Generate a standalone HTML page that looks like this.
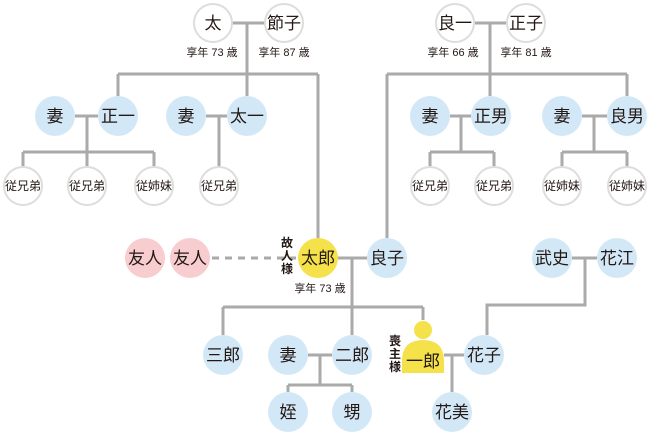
<!DOCTYPE html>
<html><head><meta charset="utf-8"><style>
html,body{margin:0;padding:0;background:#fff;}
svg{display:block;font-family:"Liberation Sans","Noto Sans CJK JP",sans-serif;}
</style></head><body>
<svg width="650" height="432" viewBox="0 0 650 432" xmlns="http://www.w3.org/2000/svg">
<g stroke="#aaa" stroke-width="3" fill="none">
<!-- left top family -->
<path d="M231 23H266M247 23V74M118 74H318M118 74V96M247 74V96M318 74V238"/>
<path d="M75 116H98M87 116V152M23 152H154M23 152V166M87 152V166M154 152V166"/>
<path d="M206 116H227M219 116V166"/>
<!-- right top family -->
<path d="M475 23H506M490 23V74M387 74H627M387 74V238M490 74V96M627 74V96"/>
<path d="M450 116H471M461 116V152M430 152H494M430 152V166M494 152V166"/>
<path d="M582 116H607M594 116V152M562 152H627M562 152V166M627 152V166"/>
<!-- center -->
<path d="M338 258H367M352 258V307M223 307H423M223 307V335M352 307V335M423 307V320"/>
<path d="M308 355H332M320 355V385M288 385H352M288 385V392M352 385V392"/>
<path d="M444 355H464M452 355V392"/>
<path d="M487 335V305H585V258M572 258H597"/>
</g>
<path d="M212 258H296" stroke="#aaa" stroke-width="3" stroke-dasharray="7,6"/>
<g stroke="#ddd" stroke-width="2" fill="#fff">
<circle cx="213" cy="23" r="19"/><circle cx="284" cy="23" r="19"/>
<circle cx="455" cy="23" r="19"/><circle cx="526" cy="23" r="19"/>
<circle cx="23" cy="186" r="19"/><circle cx="87" cy="186" r="19"/><circle cx="154" cy="186" r="19"/><circle cx="219" cy="186" r="19"/>
<circle cx="430" cy="186" r="19"/><circle cx="494" cy="186" r="19"/><circle cx="562" cy="186" r="19"/><circle cx="627" cy="186" r="19"/>
</g>
<g fill="#d3e8f7">
<circle cx="55" cy="116" r="20"/><circle cx="118" cy="116" r="20"/><circle cx="186" cy="116" r="20"/><circle cx="247" cy="116" r="20"/>
<circle cx="430" cy="116" r="20"/><circle cx="491" cy="116" r="20"/><circle cx="562" cy="116" r="20"/><circle cx="627" cy="116" r="20"/>
<circle cx="387" cy="258" r="20"/><circle cx="552" cy="258" r="20"/><circle cx="617" cy="258" r="20"/>
<circle cx="223" cy="355" r="20"/><circle cx="288" cy="355" r="20"/><circle cx="352" cy="355" r="20"/><circle cx="484" cy="355" r="20"/>
<circle cx="288" cy="412" r="20"/><circle cx="352" cy="412" r="20"/><circle cx="452" cy="412" r="20"/>
</g>
<g fill="#f7cdd0"><circle cx="145" cy="258" r="20"/><circle cx="190" cy="258" r="20"/></g>
<g fill="#f5e14a">
<circle cx="318" cy="258" r="20"/>
<circle cx="423" cy="330" r="9"/>
<path d="M402 373V361Q402 340 423 340Q444 340 444 361V373Z"/>
</g>
<g fill="#231815" font-size="17" text-anchor="middle">
<text x="213" y="29">太</text><text x="284" y="29">節子</text>
<text x="455" y="29">良一</text><text x="526" y="29">正子</text>
<text x="55" y="122">妻</text><text x="118" y="122">正一</text><text x="186" y="122">妻</text><text x="247" y="122">太一</text>
<text x="430" y="122">妻</text><text x="491" y="122">正男</text><text x="562" y="122">妻</text><text x="627" y="122">良男</text>
<text x="145" y="264">友人</text><text x="190" y="264">友人</text><text x="318" y="264">太郎</text><text x="387" y="264">良子</text>
<text x="552" y="264">武史</text><text x="617" y="264">花江</text>
<text x="223" y="361">三郎</text><text x="288" y="361">妻</text><text x="352" y="361">二郎</text><text x="423" y="367">一郎</text><text x="484" y="361">花子</text>
<text x="288" y="418">姪</text><text x="352" y="418">甥</text><text x="452" y="418">花美</text>
</g>
<g fill="#231815" font-size="12" text-anchor="middle">
<text x="23" y="190">従兄弟</text><text x="87" y="190">従兄弟</text><text x="154" y="190">従姉妹</text><text x="219" y="190">従兄弟</text>
<text x="430" y="190">従兄弟</text><text x="494" y="190">従兄弟</text><text x="562" y="190">従姉妹</text><text x="627" y="190">従姉妹</text>
</g>
<g fill="#231815" font-size="11" text-anchor="middle">
<text x="212" y="56">享年 73 歳</text><text x="284" y="56">享年 87 歳</text>
<text x="453" y="56">享年 66 歳</text><text x="526" y="56">享年 81 歳</text>
<text x="320" y="292">享年 73 歳</text>
</g>
<g fill="#231815" font-size="12" text-anchor="middle" font-weight="bold">
<text x="287" y="247">故</text><text x="287" y="260">人</text><text x="287" y="273">様</text>
<text x="395" y="345">喪</text><text x="395" y="358">主</text><text x="395" y="371">様</text>
</g>
</svg>
</body></html>
